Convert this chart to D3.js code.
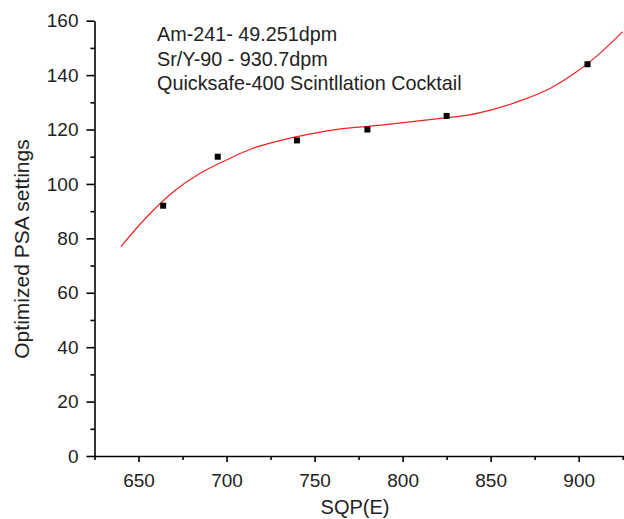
<!DOCTYPE html>
<html>
<head>
<meta charset="utf-8">
<script src="https://cdn.jsdelivr.net/npm/d3@7"></script>
<style>
  body { margin: 0; background: #fff; }
  svg { display: block; font-family: "Liberation Sans", Arial, sans-serif; }
  .axis path, .axis line { stroke: #000; stroke-width: 1.6; }
  .axis text { font-size: 19px; fill: #222; font-family: "Liberation Sans", Arial, sans-serif; }
</style>
</head>
<body>
<script>
// measured points
var sqp = [664, 695, 740, 780, 825, 905];
var psa = [92, 110, 116, 120, 125, 144];

// fitted curve
var fitX = [640, 654, 670, 685, 700, 715, 732, 748, 761, 789, 823, 838, 852, 867, 884, 899, 912, 925];
var fitY = [77, 87.4, 97.2, 103.9, 108.8, 113.1, 116.2, 118.4, 119.9, 121.7, 124.2, 125.4, 127.5, 130.6, 135.2, 141.3, 148, 156];

var xTicks = [650, 700, 750, 800, 850, 900];
var xMinor = [625, 675, 725, 775, 825, 875, 925];
var yTicks = [0, 20, 40, 60, 80, 100, 120, 140, 160];
var yMinor = [10, 30, 50, 70, 90, 110, 130, 150];

var notes = ["Am-241- 49.251dpm", "Sr/Y-90 - 930.7dpm", "Quicksafe-400 Scintllation Cocktail"];

var width = 624, height = 519;

var x = d3.scaleLinear().domain([625, 925]).range([94.5, 622.7]);
var y = d3.scaleLinear().domain([0, 160]).range([456, 20.7]);

var svg = d3.select("body").append("svg")
    .attr("width", width)
    .attr("height", height);

// minor ticks first, majors over them
svg.append("g")
    .attr("class", "axis")
    .attr("transform", "translate(0,456)")
    .call(d3.axisBottom(x).tickValues(xMinor).tickSize(4).tickFormat(""))
    .select(".domain").remove();

svg.append("g")
    .attr("class", "axis")
    .attr("transform", "translate(94.5,0)")
    .call(d3.axisLeft(y).tickValues(yMinor).tickSize(4).tickFormat(""))
    .select(".domain").remove();

svg.append("g")
    .attr("class", "axis")
    .attr("transform", "translate(0,456)")
    .call(d3.axisBottom(x).tickValues(xTicks).tickSizeInner(6).tickSizeOuter(0).tickPadding(12));

svg.append("g")
    .attr("class", "axis")
    .attr("transform", "translate(94.5,0)")
    .call(d3.axisLeft(y).tickValues(yTicks).tickSizeInner(8).tickSizeOuter(0).tickPadding(8));

// axis titles
svg.append("text")
    .attr("x", 355)
    .attr("y", 514)
    .attr("text-anchor", "middle")
    .style("font-size", "20px")
    .style("fill", "#222")
    .text("SQP(E)");

svg.append("text")
    .attr("transform", "translate(29,249) rotate(-90)")
    .attr("text-anchor", "middle")
    .style("font-size", "21px")
    .style("fill", "#222")
    .text("Optimized PSA settings");

// fitted line
var line = d3.line()
    .x(function(d, i) { return x(fitX[i]); })
    .y(function(d, i) { return y(fitY[i]); })
    .curve(d3.curveCatmullRom);

svg.append("path")
    .datum(fitX)
    .attr("d", line)
    .attr("fill", "none")
    .attr("stroke", "#ee2222")
    .attr("stroke-width", 1.2);

// square markers
svg.selectAll(".pt")
    .data(sqp)
  .enter().append("rect")
    .attr("class", "pt")
    .attr("x", function(d) { return x(d) - 3; })
    .attr("y", function(d, i) { return y(psa[i]) - 3; })
    .attr("width", 6)
    .attr("height", 6)
    .attr("fill", "#000");

// annotation
svg.selectAll(".note")
    .data(notes)
  .enter().append("text")
    .attr("class", "note")
    .attr("x", 157)
    .attr("y", function(d, i) { return 41 + i * 24.5; })
    .style("font-size", "19.8px")
    .style("fill", "#222")
    .text(function(d) { return d; });
</script>
</body>
</html>
